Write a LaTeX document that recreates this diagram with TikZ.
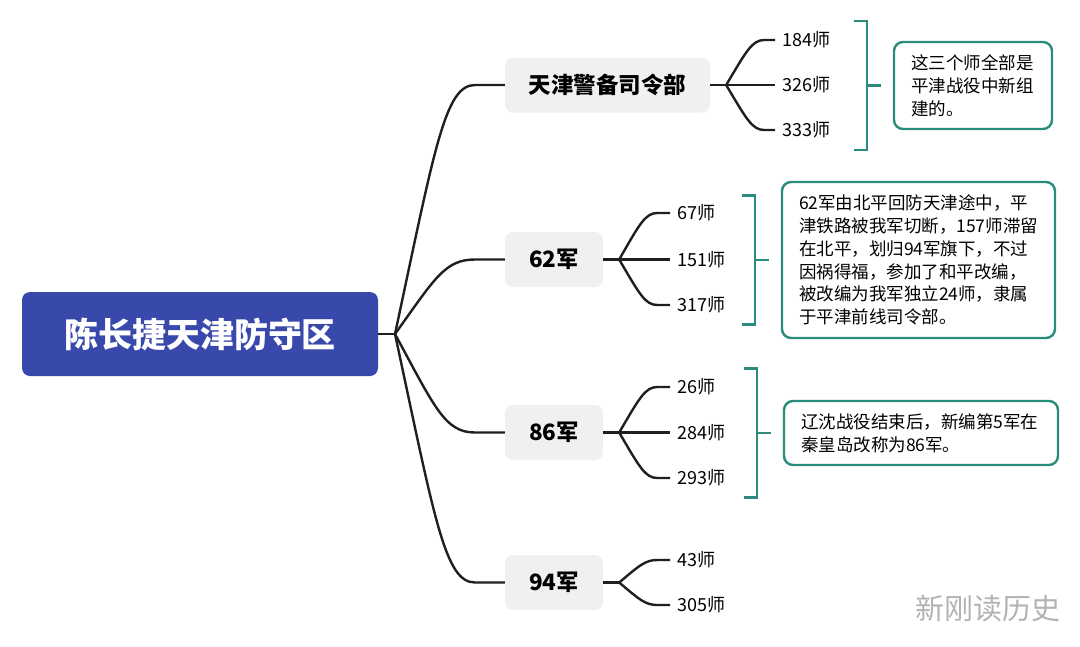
\documentclass[tikz,border=0pt]{standalone}
\usepackage{fontspec}
\setmainfont{Noto Sans CJK SC}
\usetikzlibrary{calc}
\definecolor{rootblue}{HTML}{3949AB}
\definecolor{armygray}{HTML}{F0F0F0}
\definecolor{noteteal}{HTML}{2A8C7C}
\tikzset{
  root/.style={rectangle, rounded corners=8pt, fill=rootblue, text=white,
    font=\fontsize{34}{38}\selectfont\bfseries, minimum width=356pt, minimum height=84pt},
  army/.style={rectangle, rounded corners=8pt, fill=armygray,
    font=\fontsize{22.5}{26}\selectfont\bfseries, minimum width=98pt, minimum height=55pt},
  div/.style={anchor=west, inner xsep=7pt, font=\fontsize{18}{20}\selectfont},
  note/.style={rectangle, rounded corners=9pt, draw=noteteal, line width=2.4pt,
    align=left, inner xsep=17pt, font=\fontsize{17.5}{22.8}\selectfont},
  link/.style={line width=2.4pt, black!88},
  brace/.style={line width=2.6pt, noteteal}
}
\begin{document}
\begin{tikzpicture}[x=1pt,y=-1pt]
\useasboundingbox (0,0) rectangle (1080,646);
% root and armies
\node[root] (cz) at (200,334) {陈长捷天津防守区};
\node[army, minimum width=205pt] (hq) at (607.5,85) {天津警备司令部};
\node[army] (a62) at (554,259.5) {62军};
\node[army] (a86) at (554,432.5) {86军};
\node[army] (a94) at (554,582.5) {94军};
% divisions
\node[div] (d184) at (775,40) {184师};
\node[div] (d326) at (775,85) {326师};
\node[div] (d333) at (775,130) {333师};
\node[div] (d67) at (670,213) {67师};
\node[div] (d151) at (670,259.5) {151师};
\node[div] (d317) at (670,305) {317师};
\node[div] (d26) at (670,387) {26师};
\node[div] (d284) at (670,432.5) {284师};
\node[div] (d293) at (670,478) {293师};
\node[div] (d43) at (670,560) {43师};
\node[div] (d305) at (670,605) {305师};
% notes
\node[note, text width=124pt, minimum width=158pt, minimum height=87pt] (n1) at (973,85.5)
  {这三个师全部是\\平津战役中新组\\建的。};
\node[note, text width=239pt, minimum width=273pt, minimum height=156pt] (n2) at (918.5,260)
  {62军由北平回防天津途中，平\\津铁路被我军切断，157师滞留\\在北平，划归94军旗下，不过\\因祸得福，参加了和平改编，\\被改编为我军独立24师，隶属\\于平津前线司令部。};
\node[note, text width=240pt, minimum width=274pt, minimum height=64pt] (n3) at (921,433)
  {辽沈战役结束后，新编第5军在\\秦皇岛改称为86军。};
\node[font=\fontsize{29}{32}\selectfont, text=black!30] (wm) at (988,608) {新刚读历史};
% root to armies
\coordinate (rf) at (395,334);
\draw[link] (cz.east) -- (rf);
\foreach \b in {hq,a62,a86,a94}
  \draw[link] (rf) .. controls ($(rf)!.75!(rf|-\b.west)+(40,0)$) and ($(rf|-\b.west)+(50,0)$)
    .. ($(rf|-\b.west)+(80,0)$) -- (\b.west);
% armies to divisions
\foreach \a/\ds in {hq/{d184,d326,d333},a62/{d67,d151,d317},a86/{d26,d284,d293},a94/{d43,d305}}{
  \coordinate (f-\a) at ($(\a.east)+(16,0)$);
  \draw[link] (\a.east) -- (f-\a);
  \foreach \d in \ds
    \draw[link] (f-\a) .. controls ($(f-\a)!.75!(f-\a|-\d.west)+(20,0)$) and ($(f-\a|-\d.west)+(26,0)$)
      .. ($(f-\a|-\d.west)+(38,0)$) -- (\d.west);
}
% brackets
\foreach \n in {n1,n2,n3}{
  \draw[brace] ($(\n.west)+(-39,-64.5)$) -- ++(13,0) -- ++(0,129) -- ++(-13,0);
  \draw[brace] ($(\n.west)+(-26,0)$) -- ++(14,0);
}
\end{tikzpicture}
\end{document}
